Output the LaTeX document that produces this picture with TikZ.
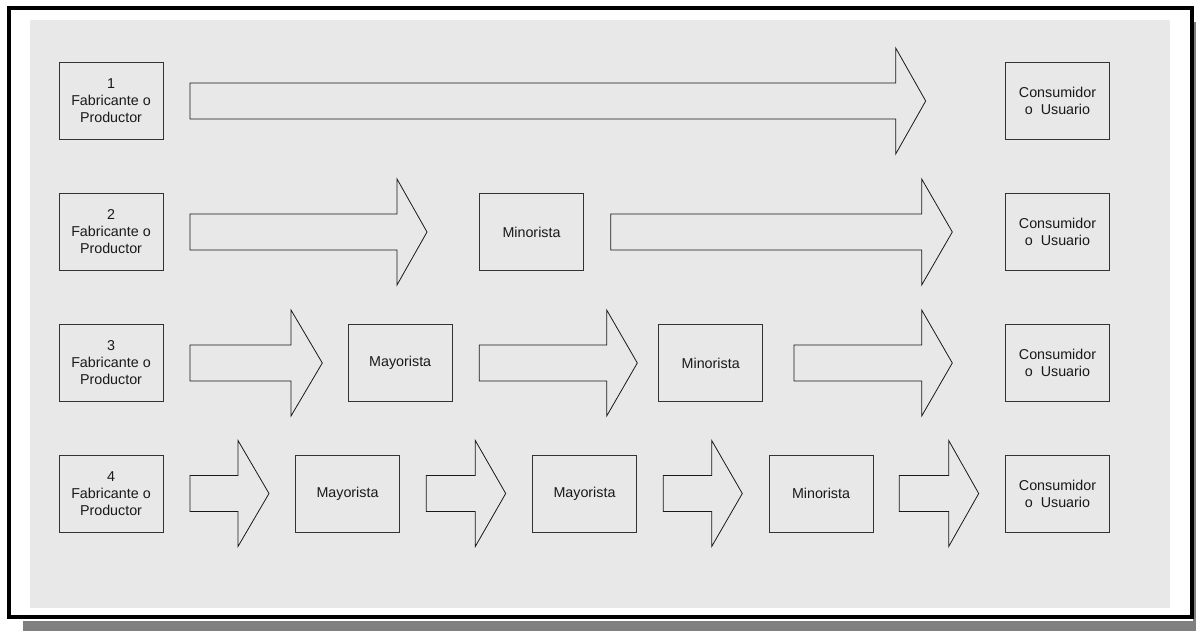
\documentclass[tikz,border=0pt]{standalone}
\usepackage{fontspec}
\setmainfont{Liberation Sans}
\newcommand{\blockarr}[4]{%
  \draw[arrowshape] (#1,#4-18) -- (#2,#4-18) -- (#2,#4-53) -- (#3,#4) -- (#2,#4+53) -- (#2,#4+18) -- (#1,#4+18) -- cycle;}
\begin{document}
\begin{tikzpicture}[x=1pt,y=-1pt,
  box/.style={draw=black!80, line width=0.9pt, fill=none, minimum width=104, minimum height=77,
    inner sep=0pt, align=center, font=\fontsize{14.3}{17}\selectfont, text=black!90},
  arrowshape/.style={draw=black!90, line width=0.8pt, line join=miter, fill=none}]
\useasboundingbox (0,0) rectangle (1196,631);
\fill[white] (0,0) rectangle (1196,631);
% shadow
\fill[black!50] (23,621) rectangle (1196,631);
\fill[black!50] (1193,22) rectangle (1196,631);
% frame
\draw[line width=4pt, fill=white] (9,8.5) rectangle (1192,617);
\fill[black!9] (30,20) rectangle (1170,608);
% row 1
\node[box] (f1) at (111,101) {1\\Fabricante o\\Productor};
\node[box] (c1) at (1057.5,101) {Consumidor\\o\ \ Usuario};
\blockarr{190}{895.7}{925.7}{101}
% row 2
\node[box] (f2) at (111,232) {2\\Fabricante o\\Productor};
\node[box] (m2) at (531.5,232) {Minorista};
\node[box] (c2) at (1057.5,232) {Consumidor\\o\ \ Usuario};
\blockarr{190}{397}{427}{232}
\blockarr{610.7}{921.7}{952.3}{232}
% row 3
\node[box] (f3) at (111,363) {3\\Fabricante o\\Productor};
\node[box] (y3) at (400.2,363) {Mayorista};
\node[box] (m3) at (710.7,363) {Minorista};
\node[box] (c3) at (1057.5,363) {Consumidor\\o\ \ Usuario};
\blockarr{190}{291}{322.3}{363}
\blockarr{479.3}{606.7}{637.3}{363}
\blockarr{794}{921.7}{952.3}{363}
% row 4
\node[box] (f4) at (111,493.5) {4\\Fabricante o\\Productor};
\node[box] (y4a) at (347.5,493.5) {Mayorista};
\node[box] (y4b) at (584.5,493.5) {Mayorista};
\node[box] (m4) at (821,493.5) {Minorista};
\node[box] (c4) at (1057.5,493.5) {Consumidor\\o\ \ Usuario};
\blockarr{190}{238}{269}{493.5}
\blockarr{426.3}{475.3}{505.7}{493.5}
\blockarr{663.3}{711.7}{742.3}{493.5}
\blockarr{899.3}{948.7}{978.7}{493.5}
\end{tikzpicture}
\end{document}
